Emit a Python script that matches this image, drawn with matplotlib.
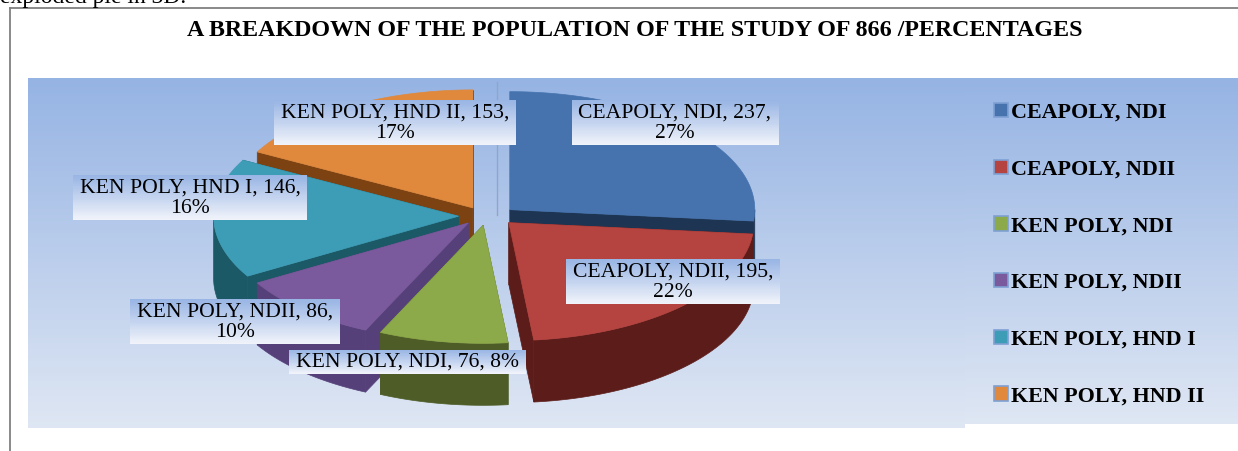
import numpy as np
import matplotlib
matplotlib.use('Agg')
import matplotlib.pyplot as plt
from matplotlib.patches import Polygon, Rectangle
from matplotlib.colors import to_rgb

# ---------------- data ----------------
categories = ['CEAPOLY, NDI', 'CEAPOLY, NDII', 'KEN POLY, NDI',
              'KEN POLY, NDII', 'KEN POLY, HND I', 'KEN POLY, HND II']
counts = [237, 195, 76, 86, 146, 153]
percent_labels = ['27%', '22%', '8%', '10%', '16%', '17%']
title = 'A BREAKDOWN OF THE POPULATION OF THE STUDY OF 866 /PERCENTAGES'
caption_above = 'exploded pie in 3D.'

# ---------------- style ----------------
top_colors = ['#4673AE', '#B5433F', '#8DAA4A', '#7A5A9C', '#3E9DB6', '#E0883C']
side_colors = ['#1D3553', '#5C1D1A', '#4E5C27', '#55407A', '#1C5966', '#7C4212']
label_pos = [(675, 123), (673, 282), (407, 362), (235, 322), (190, 198), (395, 123)]
label_wrap = [True, True, False, True, True, True]
SERIF = 'Liberation Serif'

W, H = 1238, 451
fig = plt.figure(figsize=(W / 100, H / 100), dpi=100)
ax = fig.add_axes([0, 0, 1, 1])
ax.axis('off')
ax.set_xlim(0, W)
ax.set_ylim(H, 0)


def vgrad(x0, x1, y_top, y_bot, c_top, c_bot, z, n=60):
    """vertical gradient: c_top at visual top (small y), c_bot at visual bottom"""
    a = np.array(to_rgb(c_top))
    b = np.array(to_rgb(c_bot))
    hs = (y_bot - y_top) / n
    for j in range(n):
        t = j / (n - 1)
        col = a * (1 - t) + b * t
        ax.add_patch(Rectangle((x0, y_top + j * hs), x1 - x0, hs * 1.05, fc=col,
                               ec='none', lw=0, antialiased=False, zorder=z))


# backgrounds
vgrad(28, 965, 78, 428, '#95B3E3', '#DEE6F3', 0, n=120)
vgrad(965, W, 78, 424, '#95B3E3', '#DEE6F3', 0, n=120)

# border lines of chart frame
ax.plot([10, 10], [8, H], color='#808080', lw=1.3, zorder=1)
ax.plot([10, W], [8, 8], color='#808080', lw=1.3, zorder=1)

# cut-off caption above chart
ax.text(0, 3.5, caption_above, fontsize=17, family=SERIF, ha='left',
        va='baseline', zorder=5)

# title
ax.text(635, 30, title, fontsize=17.3, family=SERIF, weight='bold',
        ha='center', va='center', zorder=5)

# ---------------- 3D exploded pie ----------------
cx, cy, Rx, Ry, depth = 488, 216, 245, 118, 62
expl_x, expl_y = 0.12, 0.08
vals = np.array(counts, float)
fr = vals / vals.sum()
edges = np.concatenate([[0], np.cumsum(fr)]) * 2 * np.pi
mids = (edges[:-1] + edges[1:]) / 2
order = np.argsort(-np.cos(mids))

for k, i in enumerate(order):
    a0, a1 = edges[i], edges[i + 1]
    ox = expl_x * Rx * np.sin(mids[i])
    oy = -expl_y * Ry * np.cos(mids[i])
    C = np.array([cx + ox, cy + oy])

    def P(t, dz=0.0):
        return np.column_stack([cx + ox + Rx * np.sin(t),
                                cy + oy - Ry * np.cos(t) + dz])

    z = 2 + k * 0.1
    sc = side_colors[i]
    # radial faces
    for a in (a0, a1):
        e = P(np.array([a]))[0]
        quad = np.array([C, e, e + [0, depth], C + [0, depth]])
        ax.add_patch(Polygon(quad, closed=True, fc=sc, ec=sc, lw=0.5, zorder=z))
    # outer side face (front half only)
    s0, s1 = max(a0, np.pi / 2), min(a1, 3 * np.pi / 2)
    if s1 > s0:
        tt = np.linspace(s0, s1, 80)
        poly = np.vstack([P(tt), P(tt[::-1], depth)])
        ax.add_patch(Polygon(poly, closed=True, fc=sc, ec=sc, lw=0.5, zorder=z + 0.01))
    # top face
    tt = np.linspace(a0, a1, 120)
    poly = np.vstack([C, P(tt)])
    ax.add_patch(Polygon(poly, closed=True, fc=top_colors[i], ec=top_colors[i],
                         lw=0.5, zorder=z + 0.02))

# leader-like thin line
ax.plot([497, 497], [82, 215], color='#8FA6CC', lw=1.0, zorder=1.5)

# ---------------- data labels ----------------
texts = []
for i in range(len(categories)):
    sep = ',\n' if label_wrap[i] else ', '
    s = f'{categories[i]}, {counts[i]}{sep}{percent_labels[i]}'
    t = ax.text(label_pos[i][0], label_pos[i][1], s, fontsize=15.6, family=SERIF,
                ha='center', va='center', multialignment='center', zorder=20,
                linespacing=1.12)
    texts.append(t)

fig.canvas.draw()
renderer = fig.canvas.get_renderer()
for i, t in enumerate(texts):
    bb = t.get_window_extent(renderer)
    w, h = bb.width, bb.height
    lx, ly = label_pos[i]
    vgrad(lx - w / 2 - 7, lx + w / 2 + 7, ly - h / 2 - 3, ly + h / 2 + 2,
          '#98B5E4', '#F0F3FA', 15, n=40)

# ---------------- legend ----------------
handles = [Rectangle((0, 0), 1, 1, fc=c, ec='#7EA0D4', lw=1.2) for c in top_colors]
leg = ax.legend(handles, categories, loc='upper left',
                bbox_to_anchor=(994 / W, 1 - 103 / H), frameon=False,
                prop={'family': SERIF, 'weight': 'bold', 'size': 15.8},
                borderpad=0, borderaxespad=0, handlelength=0.62,
                handleheight=0.62, handletextpad=0.15, labelspacing=1.67)
leg.set_zorder(30)

ax.set_xlim(0, W)
ax.set_ylim(H, 0)
fig.savefig('out.png', dpi=100)
